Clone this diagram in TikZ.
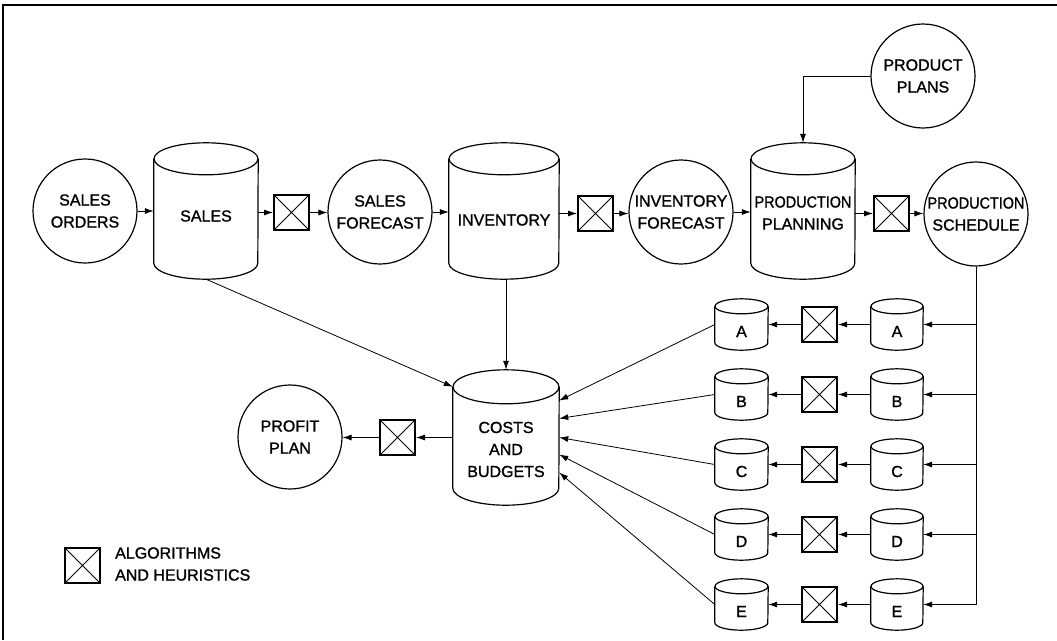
\documentclass[tikz,border=0pt]{standalone}
\usepackage{fontspec}
\setmainfont{Liberation Sans}[RawFeature={embolden=1.2}]
\usetikzlibrary{arrows.meta,calc}
\tikzset{
  txt/.style={font=\fontsize{16}{22}\selectfont, align=center, inner sep=0pt},
  proc/.style={circle, draw, line width=1.2pt, minimum size=104pt, inner sep=0pt, txt},
  xbox/.style={draw, line width=2pt, minimum size=35pt, inner sep=0pt,
    path picture={\draw[line width=0.9pt]
      (path picture bounding box.north west) -- (path picture bounding box.south east)
      (path picture bounding box.north east) -- (path picture bounding box.south west);}},
  cylbox/.style={draw=none, inner sep=0pt},
  cylline/.style={line width=1.2pt},
  conn/.style={line width=0.8pt, -{Latex[length=9pt,width=6pt]}},
  plain/.style={line width=0.8pt},
}
\newcommand\mycyl[8]{%
  \node[cylbox, minimum width=#4pt, minimum height=#5pt] (#1) at (#2,#3) {};
  \draw[cylline] ([yshift=-#6pt]#1.north) ellipse [x radius=#4pt/2, y radius=#6pt];
  \draw[cylline] ([yshift=-#6pt]#1.north west) -- ([yshift=#6pt]#1.south west)
     arc[start angle=180, end angle=360, x radius=#4pt/2, y radius=#6pt]
     -- ([yshift=-#6pt]#1.north east);
  \node[txt] at ([yshift=-#7pt]#1.center) {#8};
}
\begin{document}
\begin{tikzpicture}[x=1pt, y=-1pt]
\useasboundingbox (0,0) rectangle (1057,640);
% frame
\draw[line width=1.5pt] (3,640) -- (3,5) -- (1057,5);

% top row
\node[proc] (orders) at (85,211) {SALES\\ORDERS};
\mycyl{sales}{206}{211}{104}{136}{16}{5}{SALES}
\node[xbox] (b1) at (291.5,212.5) {};
\node[proc] (sfc) at (380,212) {SALES\\FORECAST};
\mycyl{inv}{504}{211}{110}{136}{16}{9}{INVENTORY}
\node[xbox] (b2) at (595.5,213.5) {};
\node[proc] (ifc) at (681,212) {INVENTORY\\FORECAST};
\mycyl{plan}{803}{211}{104}{136}{16}{2}{\scalebox{0.9}[1]{PRODUCTION}\\PLANNING}
\node[xbox] (b3) at (891.5,213.5) {};
\node[proc] (sched) at (976,214) {\scalebox{0.9}[1]{PRODUCTION}\\SCHEDULE};
\node[proc] (pplans) at (923,76) {PRODUCT\\PLANS};

\draw[conn] (orders.east) -- (orders.east -| sales.west);
\draw[conn] (sales.east |- b1.west) -- (b1.west);
\draw[conn] (b1.east) -- (b1.east -| sfc.west);
\draw[conn] (sfc.east) -- (sfc.east -| inv.west);
\draw[conn] (inv.east |- b2.west) -- (b2.west);
\draw[conn] (b2.east) -- (b2.east -| ifc.west);
\draw[conn] (ifc.east) -- (ifc.east -| plan.west);
\draw[conn] (plan.east |- b3.west) -- (b3.west);
\draw[conn] (b3.east) -- (b3.east -| sched.west);
\draw[conn] (pplans.west) -| (plan.north);

% costs and profit
\mycyl{costs}{506}{437.5}{106}{135}{17}{12}{COSTS\\AND\\BUDGETS}
\node[xbox] (b4) at (397.5,437.5) {};
\node[proc] (profit) at (290,437) {PROFIT\\PLAN};
\draw[conn] (costs.west |- b4.east) -- (b4.east);
\draw[conn] (b4.west) -- (b4.west -| profit.east);
\draw[conn] (sales.south) -- ([yshift=-17pt]costs.north west);
\draw[conn] (costs.north |- inv.south) -- (costs.north);

% right rows
\coordinate (vbot) at (974,604.5);
\draw[plain] (sched.south) -- (sched.south |- vbot);
\foreach \L/\y/\s in {A/324.5/37,B/394.5/19,C/464.5/0,D/534.5/-17,E/604.5/-35}{
  \mycyl{r\L}{897}{\y}{52}{51}{7.5}{7}{\L}
  \node[xbox] (b\L) at (819.5,\y) {};
  \mycyl{l\L}{741.5}{\y}{53}{51}{7.5}{7}{\L}
  \draw[conn] (sched.south |- r\L.east) -- (r\L.east);
  \draw[conn] (r\L.west) -- (b\L.east);
  \draw[conn] (b\L.west) -- (l\L.east);
  \draw[conn] (l\L.west) -- ([yshift=\s pt]costs.east);
}

% legend
\node[xbox] (leg) at (82.5,565.5) {};
\node[txt, align=left, anchor=west] (legtxt) at (115,564) {ALGORITHMS\\AND HEURISTICS};
\end{tikzpicture}
\end{document}
